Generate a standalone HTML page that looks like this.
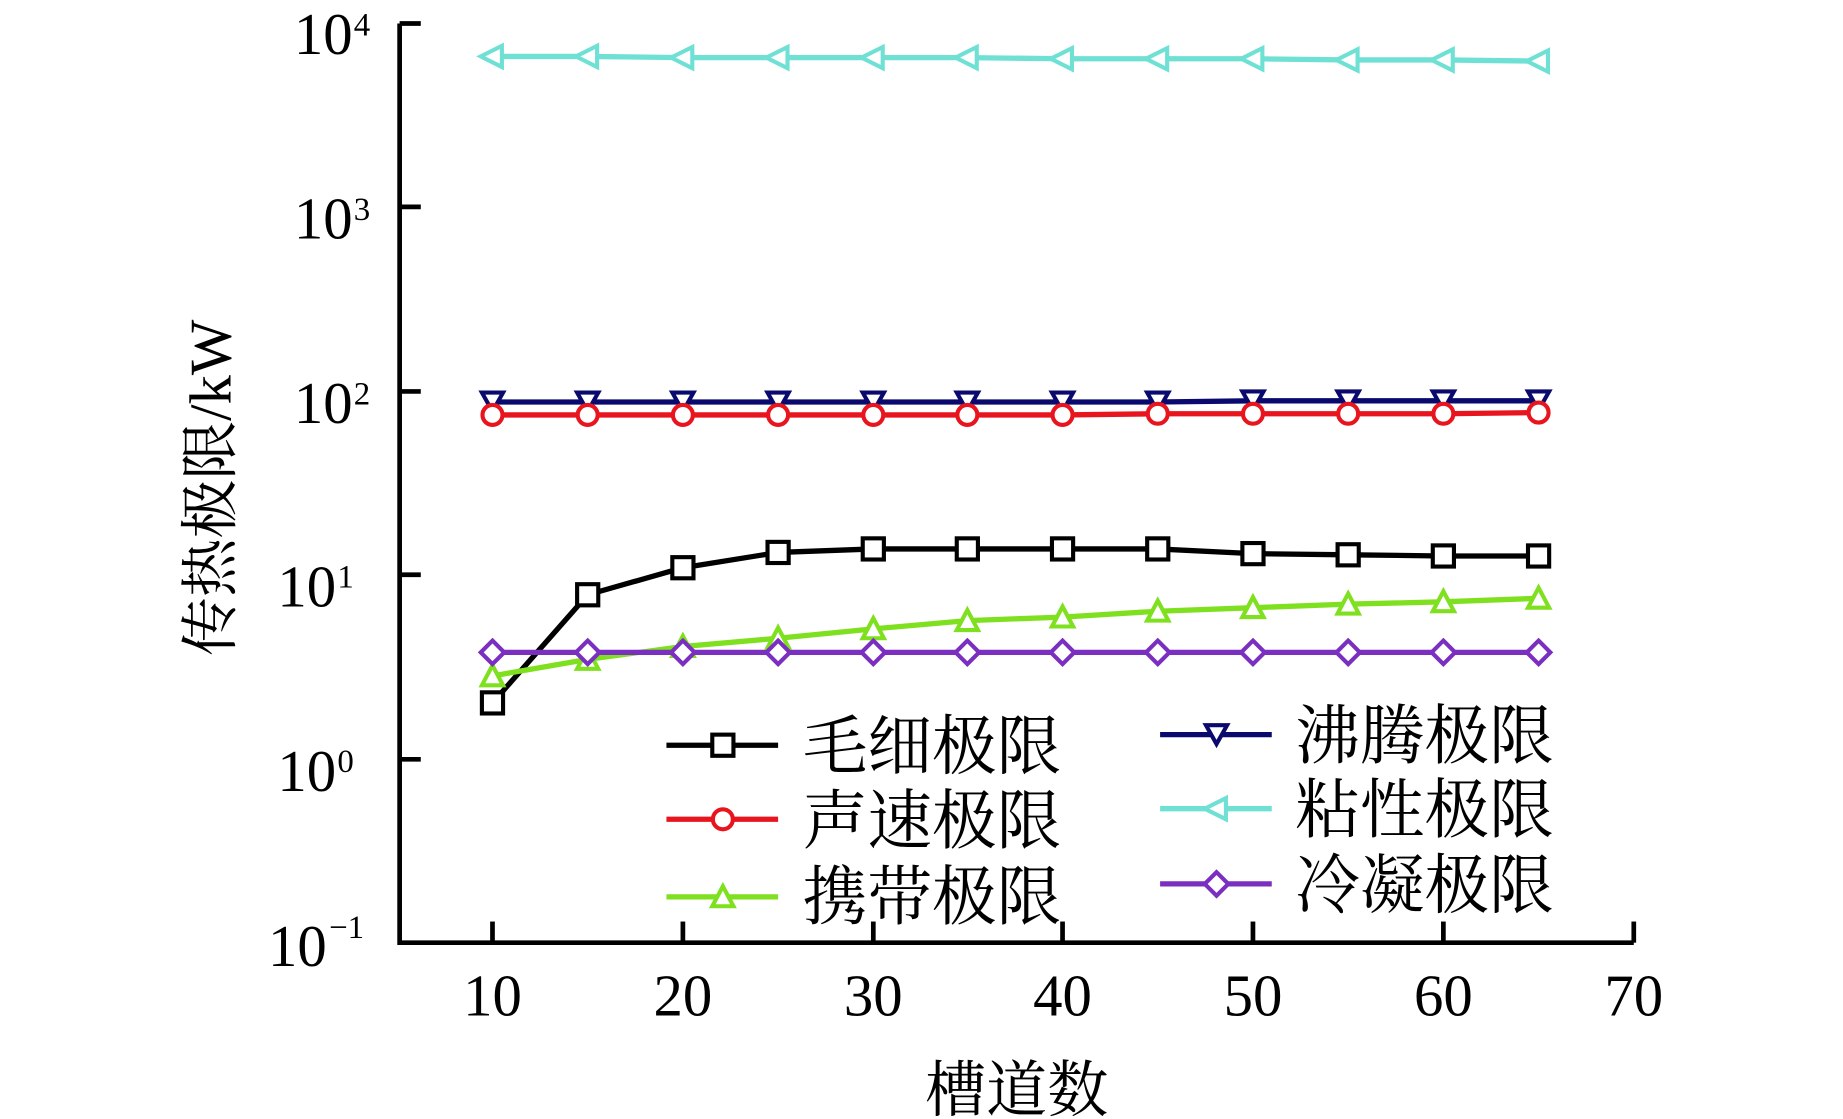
<!DOCTYPE html>
<html><head><meta charset="utf-8"><style>html,body{margin:0;padding:0;background:#fff}svg{display:block}</style></head><body>
<svg width="1843" height="1119" viewBox="0 0 1568 952" preserveAspectRatio="none" xmlns="http://www.w3.org/2000/svg">
<g font-family="Liberation Serif, serif" fill="#000">
<path d="M340 20 V802 H1390" fill="none" stroke="#000" stroke-width="4"/>
<g stroke="#000" stroke-width="4">
<line x1="340" y1="20" x2="358" y2="20"/>
<line x1="340" y1="176" x2="358" y2="176"/>
<line x1="340" y1="333" x2="358" y2="333"/>
<line x1="340" y1="489" x2="358" y2="489"/>
<line x1="340" y1="646" x2="358" y2="646"/>
<line x1="419" y1="802" x2="419" y2="784"/>
<line x1="581" y1="802" x2="581" y2="784"/>
<line x1="743" y1="802" x2="743" y2="784"/>
<line x1="904" y1="802" x2="904" y2="784"/>
<line x1="1066" y1="802" x2="1066" y2="784"/>
<line x1="1228" y1="802" x2="1228" y2="784"/>
<line x1="1390" y1="802" x2="1390" y2="784"/>
</g>
<g font-size="50" text-anchor="end">
<text x="300" y="46">10</text><text x="301" y="30" font-size="28" text-anchor="start">4</text>
<text x="300" y="203">10</text><text x="301" y="187" font-size="28" text-anchor="start">3</text>
<text x="300" y="360">10</text><text x="301" y="344" font-size="28" text-anchor="start">2</text>
<text x="286" y="516">10</text><text x="287" y="500" font-size="28" text-anchor="start">1</text>
<text x="286" y="673">10</text><text x="287" y="657" font-size="28" text-anchor="start">0</text>
<text x="278" y="822">10</text><text x="280" y="798" font-size="28" text-anchor="start">−1</text>
</g>
<g font-size="50" text-anchor="middle">
<text x="419" y="864">10</text><text x="581" y="864">20</text><text x="743" y="864">30</text><text x="904" y="864">40</text><text x="1066" y="864">50</text><text x="1228" y="864">60</text><text x="1390" y="864">70</text>
</g>
<text x="865" y="945" font-size="52" text-anchor="middle" font-family="Liberation Serif, 'Noto Serif CJK SC', serif">槽道数</text>
<text transform="translate(196 415) rotate(-90)" font-size="50" text-anchor="middle" font-family="Liberation Serif, 'Noto Serif CJK SC', serif">传热极限/kW</text>
</g>
<g fill="none" stroke-width="4.5" stroke-linejoin="round">
<polyline stroke="#6fe0d4" points="419,48 500,48 581,49 662,49 743,49 823,49 904,50 985,50 1066,50 1147,51 1228,51 1309,52"/>
<polyline stroke="#0a0a6e" points="419,342 500,342 581,342 662,342 743,342 823,342 904,342 985,342 1066,341 1147,341 1228,341 1309,341"/>
<polyline stroke="#e8141e" points="419,353 500,353 581,353 662,353 743,353 823,353 904,353 985,352 1066,352 1147,352 1228,352 1309,351"/>
<polyline stroke="#000" points="419,598 500,506 581,483 662,470 743,467 823,467 904,467 985,467 1066,471 1147,472 1228,473 1309,473"/>
<polyline stroke="#7ee01e" points="419,575 500,561 581,550 662,543 743,535 823,528 904,525 985,520 1066,517 1147,514 1228,512 1309,509"/>
<polyline stroke="#7a2fc0" points="419,555 500,555 581,555 662,555 743,555 823,555 904,555 985,555 1066,555 1147,555 1228,555 1309,555"/>
</g>
<defs>
<path id="tl" d="M-10 0 L8 -9 L8 9 Z"/>
<path id="td" d="M-9 -8 L9 -8 L0 8 Z"/>
<circle id="ci" r="8.5"/>
<rect id="sq" x="-9" y="-9" width="18" height="18"/>
<path id="tu" d="M0 -9 L9 8 L-9 8 Z"/>
<path id="dm" d="M0 -10 L10 0 L0 10 L-10 0 Z"/>
</defs>
<g fill="#fff" stroke-width="3.5">
<g stroke="#6fe0d4"><use href="#tl" x="419" y="48"/><use href="#tl" x="500" y="48"/><use href="#tl" x="581" y="49"/><use href="#tl" x="662" y="49"/><use href="#tl" x="743" y="49"/><use href="#tl" x="823" y="49"/><use href="#tl" x="904" y="50"/><use href="#tl" x="985" y="50"/><use href="#tl" x="1066" y="50"/><use href="#tl" x="1147" y="51"/><use href="#tl" x="1228" y="51"/><use href="#tl" x="1309" y="52"/></g>
<g stroke="#0a0a6e"><use href="#td" x="419" y="342"/><use href="#td" x="500" y="342"/><use href="#td" x="581" y="342"/><use href="#td" x="662" y="342"/><use href="#td" x="743" y="342"/><use href="#td" x="823" y="342"/><use href="#td" x="904" y="342"/><use href="#td" x="985" y="342"/><use href="#td" x="1066" y="341"/><use href="#td" x="1147" y="341"/><use href="#td" x="1228" y="341"/><use href="#td" x="1309" y="341"/></g>
<g stroke="#e8141e"><use href="#ci" x="419" y="353"/><use href="#ci" x="500" y="353"/><use href="#ci" x="581" y="353"/><use href="#ci" x="662" y="353"/><use href="#ci" x="743" y="353"/><use href="#ci" x="823" y="353"/><use href="#ci" x="904" y="353"/><use href="#ci" x="985" y="352"/><use href="#ci" x="1066" y="352"/><use href="#ci" x="1147" y="352"/><use href="#ci" x="1228" y="352"/><use href="#ci" x="1309" y="351"/></g>
<g stroke="#000"><use href="#sq" x="419" y="598"/><use href="#sq" x="500" y="506"/><use href="#sq" x="581" y="483"/><use href="#sq" x="662" y="470"/><use href="#sq" x="743" y="467"/><use href="#sq" x="823" y="467"/><use href="#sq" x="904" y="467"/><use href="#sq" x="985" y="467"/><use href="#sq" x="1066" y="471"/><use href="#sq" x="1147" y="472"/><use href="#sq" x="1228" y="473"/><use href="#sq" x="1309" y="473"/></g>
<g stroke="#7ee01e"><use href="#tu" x="419" y="575"/><use href="#tu" x="500" y="561"/><use href="#tu" x="581" y="550"/><use href="#tu" x="662" y="543"/><use href="#tu" x="743" y="535"/><use href="#tu" x="823" y="528"/><use href="#tu" x="904" y="525"/><use href="#tu" x="985" y="520"/><use href="#tu" x="1066" y="517"/><use href="#tu" x="1147" y="514"/><use href="#tu" x="1228" y="512"/><use href="#tu" x="1309" y="509"/></g>
<g stroke="#7a2fc0"><use href="#dm" x="419" y="555"/><use href="#dm" x="500" y="555"/><use href="#dm" x="581" y="555"/><use href="#dm" x="662" y="555"/><use href="#dm" x="743" y="555"/><use href="#dm" x="823" y="555"/><use href="#dm" x="904" y="555"/><use href="#dm" x="985" y="555"/><use href="#dm" x="1066" y="555"/><use href="#dm" x="1147" y="555"/><use href="#dm" x="1228" y="555"/><use href="#dm" x="1309" y="555"/></g>
</g>
<g stroke-width="4.5">
<line x1="567" y1="634" x2="662" y2="634" stroke="#000"/>
<line x1="567" y1="697" x2="662" y2="697" stroke="#e8141e"/>
<line x1="567" y1="763" x2="662" y2="763" stroke="#7ee01e"/>
<line x1="987" y1="625" x2="1082" y2="625" stroke="#0a0a6e"/>
<line x1="987" y1="688" x2="1082" y2="688" stroke="#6fe0d4"/>
<line x1="987" y1="752" x2="1082" y2="752" stroke="#7a2fc0"/>
</g>
<g fill="#fff" stroke-width="3.5">
<use href="#sq" x="615" y="634" stroke="#000"/>
<use href="#ci" x="615" y="697" stroke="#e8141e"/>
<use href="#tu" x="615" y="763" stroke="#7ee01e"/>
<use href="#td" x="1035" y="625" stroke="#0a0a6e"/>
<use href="#tl" x="1035" y="688" stroke="#6fe0d4"/>
<use href="#dm" x="1035" y="752" stroke="#7a2fc0"/>
</g>
<g font-family="'Noto Serif CJK SC', serif" font-size="55" fill="#000">
<text x="683" y="654">毛细极限</text>
<text x="683" y="717">声速极限</text>
<text x="683" y="782">携带极限</text>
<text x="1102" y="645">沸腾极限</text>
<text x="1102" y="708">粘性极限</text>
<text x="1102" y="772">冷凝极限</text>
</g>
</svg>
</body></html>
